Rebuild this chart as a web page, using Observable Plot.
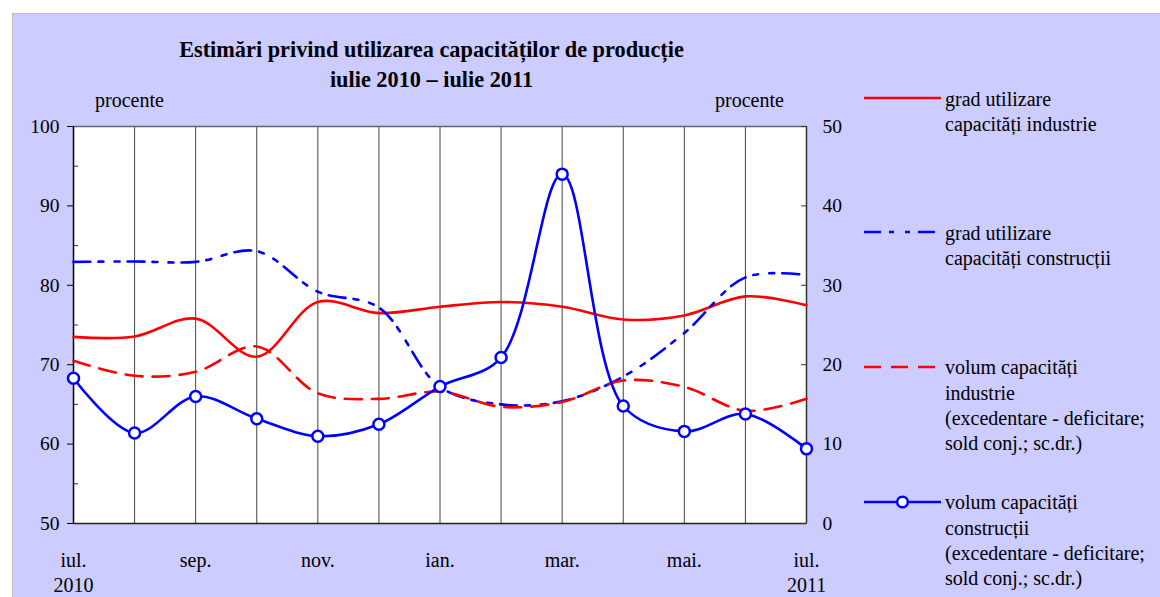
<!DOCTYPE html>
<html>
<head>
<meta charset="utf-8">
<script src="https://cdn.jsdelivr.net/npm/d3@7"></script>
<script src="https://cdn.jsdelivr.net/npm/@observablehq/plot@0.6"></script>
<style>
  html, body { margin: 0; padding: 0; background: #fff; }
  #wrap { position: relative; width: 1160px; height: 597px; overflow: hidden; background: #fff;
          font-family: "Liberation Serif", "Times New Roman", serif; color: #000; }
  #bg { position: absolute; left: 12px; top: 13px; right: 0; bottom: 0; background: #CCCCFF;
        border-left: 1px solid #bdbdbd; border-top: 1px solid #bdbdbd; }
  #chart { position: absolute; left: 0; top: 0; }
  .t { position: absolute; white-space: nowrap; font-size: 20px; line-height: 25.3px; }
  #title { position: absolute; left: 0; width: 863px; top: 34.6px; text-align: center;
           font-weight: bold; font-size: 22.3px; line-height: 30px; }
  .sw { position: absolute; left: 862px; width: 80px; height: 16px; }
</style>
</head>
<body>
<div id="wrap">
  <div id="bg"></div>
  <div id="chart"></div>
  <div id="title">Estimări privind utilizarea capacităților de producție<br>iulie 2010 – iulie 2011</div>
  <div class="t" style="left:95px; top:87.6px;">procente</div>
  <div class="t" style="left:715px; top:87.6px;">procente</div>
  <div id="legend"></div>
</div>
<script>
// ---- data ----
const months = ["iul.", "aug.", "sep.", "oct.", "nov.", "dec.", "ian.", "feb.", "mar.", "apr.", "mai.", "iun.", "iul."];
const tickIndex = [0, 2, 4, 6, 8, 10, 12];
const tickLabels = ["iul.\n2010", "sep.", "nov.", "ian.", "mar.", "mai.", "iul.\n2011"];
const leftTicks = [50, 60, 70, 80, 90, 100];
const leftMinor = [55, 65, 75, 85, 95];
const rightTicks = [0, 10, 20, 30, 40, 50];

// left axis (procente)
const gradIndustrie   = [73.5, 73.55, 75.8, 71.0, 77.9, 76.5, 77.3, 77.9, 77.3, 75.7, 76.2, 78.6, 77.5];
const gradConstructii = [82.95, 83.0, 82.95, 84.3, 79.2, 77.2, 67.2, 65.0, 65.4, 68.5, 74.0, 81.0, 81.3];
// right axis (sold conjunctural)
const volumIndustrie   = [20.5, 18.6, 19.1, 22.3, 16.4, 15.7, 16.6, 14.7, 15.3, 18.0, 17.2, 14.2, 15.7];
const volumConstructii = [18.3, 11.4, 16.0, 13.2, 11.0, 12.5, 17.25, 20.9, 44.0, 14.8, 11.6, 13.8, 9.4];

const seriesNames = [
  "grad utilizare\ncapacități industrie",
  "grad utilizare\ncapacități construcții",
  "volum capacități\nindustrie\n(excedentare - deficitare;\nsold conj.; sc.dr.)",
  "volum capacități\nconstrucții\n(excedentare - deficitare;\nsold conj.; sc.dr.)"
];

// ---- build tables ----
const rightOffset = 50; // right scale 0..50 aligned with left scale 50..100
const mk = (arr, right) => arr.map((v, i) => ({i, month: months[i], v, y: right ? v + rightOffset : v}));
const sGI = mk(gradIndustrie, false);
const sGC = mk(gradConstructii, false);
const sVI = mk(volumIndustrie, true);
const sVC = mk(volumConstructii, true);

const RED = "#FF0000", BLUE = "#0000FF";
const dashRed = "17,10";
const dashBlue = "17,8,5,11,5,8";
const SW = 2.6;

const plot = Plot.plot({
  width: 1160,
  height: 597,
  marginLeft: 73,
  marginRight: 354,
  marginTop: 126,
  marginBottom: 74,
  style: {background: "transparent", fontFamily: "'Liberation Serif', 'Times New Roman', serif", fontSize: "20px", color: "#000"},
  x: {type: "linear", domain: [0, 12]},
  y: {domain: [50, 100]},
  marks: [
    Plot.frame({fill: "#fff", stroke: null}),
    Plot.ruleX(d3.range(1, 12), {stroke: "#444", strokeWidth: 1}),
    Plot.ruleY([100], {stroke: "#666", strokeWidth: 1.5}),
    Plot.ruleX([12], {stroke: "#333", strokeWidth: 1.5}),
    Plot.ruleX([0], {stroke: "#000", strokeWidth: 1.5}),
    Plot.ruleY([50], {stroke: "#222", strokeWidth: 1.5}),
    // left axis
    Plot.axisY({anchor: "left", ticks: leftTicks, tickSize: 6, tickPadding: 8, label: null, stroke: "#000", fontSize: 19.5}),
    Plot.axisY({anchor: "left", ticks: leftMinor, tickSize: -5, tickFormat: () => "", label: null, stroke: "#333"}),
    // right axis
    Plot.axisY({anchor: "right", ticks: leftTicks, tickSize: -6, tickFormat: () => "", label: null, stroke: "#333"}),
    Plot.axisY({anchor: "right", ticks: rightTicks.map(d => d + rightOffset), tickSize: 0, tickPadding: 16,
                tickFormat: d => String(d - rightOffset), label: null, fontSize: 19.5}),
    // bottom axis
    Plot.axisX({anchor: "bottom", ticks: tickIndex, tickSize: 0, tickPadding: 25, label: null,
                tickFormat: d => tickLabels[tickIndex.indexOf(d)], lineHeight: 1.27}),
    // series
    Plot.line(sGI, {x: "i", y: "y", stroke: RED, strokeWidth: SW, curve: "catmull-rom"}),
    Plot.line(sGC, {x: "i", y: "y", stroke: BLUE, strokeWidth: SW, strokeDasharray: dashBlue, curve: "catmull-rom"}),
    Plot.line(sVI, {x: "i", y: "y", stroke: RED, strokeWidth: SW, strokeDasharray: dashRed, curve: "catmull-rom"}),
    Plot.line(sVC, {x: "i", y: "y", stroke: BLUE, strokeWidth: SW, curve: "catmull-rom"}),
    Plot.dot(sVC, {x: "i", y: "y", r: 5.5, fill: "#fff", stroke: BLUE, strokeWidth: 2.5})
  ]
});
document.getElementById("chart").appendChild(plot);

// ---- legend ----
const legend = document.getElementById("legend");
const legItems = [
  {name: seriesNames[0], lineY: 98.3, stroke: RED, dash: null, marker: false},
  {name: seriesNames[1], lineY: 232, stroke: BLUE, dash: dashBlue, marker: false},
  {name: seriesNames[2], lineY: 366.7, stroke: RED, dash: dashRed, marker: false},
  {name: seriesNames[3], lineY: 501.7, stroke: BLUE, dash: null, marker: true}
];
for (const it of legItems) {
  const ns = "http://www.w3.org/2000/svg";
  const svg = document.createElementNS(ns, "svg");
  svg.setAttribute("class", "sw");
  svg.setAttribute("width", 80);
  svg.setAttribute("height", 16);
  svg.style.top = (it.lineY - 8) + "px";
  const ln = document.createElementNS(ns, "line");
  ln.setAttribute("x1", 2); ln.setAttribute("x2", 79);
  ln.setAttribute("y1", 8); ln.setAttribute("y2", 8);
  ln.setAttribute("stroke", it.stroke);
  ln.setAttribute("stroke-width", SW);
  if (it.dash) ln.setAttribute("stroke-dasharray", it.dash);
  svg.appendChild(ln);
  if (it.marker) {
    const c = document.createElementNS(ns, "circle");
    c.setAttribute("cx", 40.5); c.setAttribute("cy", 8); c.setAttribute("r", 5.3);
    c.setAttribute("fill", "#fff"); c.setAttribute("stroke", it.stroke); c.setAttribute("stroke-width", 2.5);
    svg.appendChild(c);
  }
  legend.appendChild(svg);
  const div = document.createElement("div");
  div.className = "t";
  div.style.left = "945px";
  div.style.top = (it.lineY + 8 - 19.4) + "px";
  div.innerHTML = it.name.split("\n").join("<br>");
  legend.appendChild(div);
}
</script>
</body>
</html>
